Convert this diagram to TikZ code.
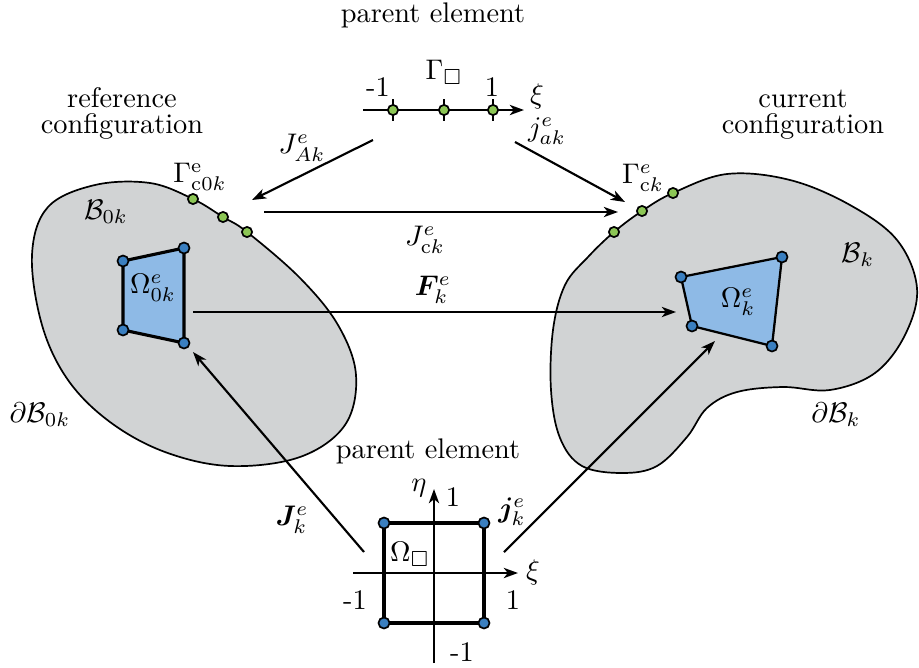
\documentclass[tikz,border=0pt]{standalone}
\usepackage{amsmath,amssymb,bm}
\usetikzlibrary{arrows.meta}
\definecolor{blobgray}{RGB}{209,211,212}
\definecolor{quadblue}{RGB}{142,186,230}
\definecolor{dotblue}{RGB}{58,127,192}
\definecolor{dotgreen}{RGB}{140,198,85}
\begin{document}
\begin{tikzpicture}[x=0.3527pt,y=-0.3527pt,
  arr/.style={-{Stealth[length=5pt,width=3.6pt,inset=1.4pt]}, line width=0.75pt},
  axisarr/.style={-{Stealth[length=5pt,width=3.6pt,inset=1.4pt]}, line width=0.85pt},
  blob/.style={fill=blobgray, draw=black, line width=0.6pt},
  gdot/.style={circle, fill=dotgreen, draw=black, line width=0.6pt, minimum size=3.6pt, inner sep=0pt},
  bdot/.style={circle, fill=dotblue, draw=black, line width=0.6pt, minimum size=3.9pt, inner sep=0pt},
  lbl/.style={inner sep=0pt}]
\useasboundingbox (0,0) rectangle (919,668);

% ---- bodies
\draw[blob] plot[smooth cycle, tension=0.6] coordinates {
 (32,255) (48,207) (95,185) (150,183) (193,199) (223,217) (247,232)
 (300,278) (338,325) (356,375) (345,425) (300,457) (230,466) (165,452)
 (110,422) (68,380) (42,325)};
\draw[blob] plot[smooth cycle, tension=0.6] coordinates {
 (614,232) (642,211) (673,193) (727,174) (790,180) (850,205) (897,240)
 (917,288) (905,335) (875,373) (830,390) (783,387) (737,392) (707,408)
 (687,437) (657,466) (622,473) (582,466) (560,438) (551,390) (553,330)
 (565,285) (588,257)};

% ---- contact nodes on boundaries
\node[gdot] (gl1) at (193,199) {};
\node[gdot] (gl2) at (223,217) {};
\node[gdot] (gl3) at (247,232) {};
\node[gdot] (gr1) at (614,232) {};
\node[gdot] (gr2) at (642,211) {};
\node[gdot] (gr3) at (673,193) {};

% ---- elements
\coordinate (LA) at (123,261); \coordinate (LB) at (184,248);
\coordinate (LC) at (184,343); \coordinate (LD) at (123,330);
\filldraw[fill=quadblue, draw=black, line width=1.1pt, line join=round]
  (LA) -- (LB) -- (LC) -- (LD) -- cycle;
\node[bdot] (la) at (LA) {}; \node[bdot] (lb) at (LB) {};
\node[bdot] (lc) at (LC) {}; \node[bdot] (ld) at (LD) {};

\coordinate (RA) at (681,277); \coordinate (RB) at (782,257);
\coordinate (RC) at (772,346); \coordinate (RD) at (692,326);
\filldraw[fill=quadblue, draw=black, line width=0.8pt, line join=round]
  (RA) -- (RB) -- (RC) -- (RD) -- cycle;
\node[bdot] (ra) at (RA) {}; \node[bdot] (rb) at (RB) {};
\node[bdot] (rc) at (RC) {}; \node[bdot] (rd) at (RD) {};

% ---- top parent element (line)
\node[anchor=base] (ptop) at (433,22) {parent element};
\coordinate (xs) at (363,110); \coordinate (xe) at (524,110);
\draw[axisarr] (xs) -- (xe);
\foreach \x in {393,444,493} \draw[line width=0.8pt] (\x,99) -- (\x,121);
\node[gdot] (t1) at (393,110) {};
\node[gdot] (t2) at (444,110) {};
\node[gdot] (t3) at (493,110) {};
\node (tm1) at (378,87) {-1};
\node (tp1) at (492,87) {1};
\node (tgam) at (444,72) {$\Gamma_{\square}$};
\node (txi) at (537,96) {$\xi$};

% ---- bottom parent element (square)
\node[anchor=base] (pbot) at (428,458) {parent element};
\coordinate (SA) at (384,523); \coordinate (SB) at (484,523);
\coordinate (SC) at (484,623); \coordinate (SD) at (384,623);
\draw[line width=1.1pt] (SA) -- (SB) -- (SC) -- (SD) -- cycle;
\coordinate (ax0) at (353,573); \coordinate (ax1) at (518,573);
\coordinate (ay0) at (434,663); \coordinate (ay1) at (434,489);
\draw[axisarr] (ax0) -- (ax1);
\draw[axisarr] (ay0) -- (ay1);
\node[bdot] (sa) at (SA) {}; \node[bdot] (sb) at (SB) {};
\node[bdot] (sc) at (SC) {}; \node[bdot] (sd) at (SD) {};
\node (seta) at (419,488) {$\eta$};
\node (s1t) at (453,497) {1};
\node (som) at (410,554) {$\Omega_{\square}$};
\node (sxi) at (533,572) {$\xi$};
\node (sm1l) at (355,600) {-1};
\node (s1r) at (513,600) {1};
\node (sm1b) at (462,652) {-1};

% ---- configuration captions
\node[anchor=base] (ref1) at (122,107) {reference};
\node[anchor=base] (ref2) at (122,133) {configuration};
\node[anchor=base] (cur1) at (803,107) {current};
\node[anchor=base] (cur2) at (803,133) {configuration};

% ---- region labels
\node (B0) at (106,212) {$\mathcal{B}_{0k}$};
\node (Bk) at (858,255) {$\mathcal{B}_{k}$};
\node (dB0) at (40,415) {$\partial\mathcal{B}_{0k}$};
\node (dBk) at (836,415) {$\partial\mathcal{B}_{k}$};
\node (Om0) at (153,288) {$\Omega^{e}_{0k}$};
\node (Omk) at (738,302) {$\Omega^{e}_{k}$};
\node (Gc0) at (200,177) {$\Gamma^{\mathrm{e}}_{\mathrm{c}0k}$};
\node (Gck) at (643,178) {$\Gamma^{e}_{\mathrm{c}k}$};

% ---- mappings
\coordinate (JAs) at (373,140); \coordinate (JAe) at (252,200);
\draw[arr] (JAs) -- (JAe);
\node (lJA) at (302,148) {$J^{e}_{Ak}$};
\coordinate (jas) at (515,142); \coordinate (jae) at (625,202);
\draw[arr] (jas) -- (jae);
\node (lja) at (547,131) {$j^{e}_{ak}$};
\coordinate (Jcs) at (264,212); \coordinate (Jce) at (618,212);
\draw[arr] (Jcs) -- (Jce);
\node (lJc) at (425,240) {$J^{e}_{\mathrm{c}k}$};
\coordinate (Fs) at (193,312); \coordinate (Fe) at (676,312);
\draw[arr] (Fs) -- (Fe);
\node (lF) at (433,290) {$\bm{F}^{e}_{k}$};
\coordinate (Js) at (364,552); \coordinate (Je) at (193,352);
\draw[arr] (Js) -- (Je);
\node (lJ) at (292,520) {$\bm{J}^{e}_{k}$};
\coordinate (js) at (504,552); \coordinate (je) at (715,341);
\draw[arr] (js) -- (je);
\node (lj) at (512,512) {$\bm{j}^{e}_{k}$};
\end{tikzpicture}
\end{document}
